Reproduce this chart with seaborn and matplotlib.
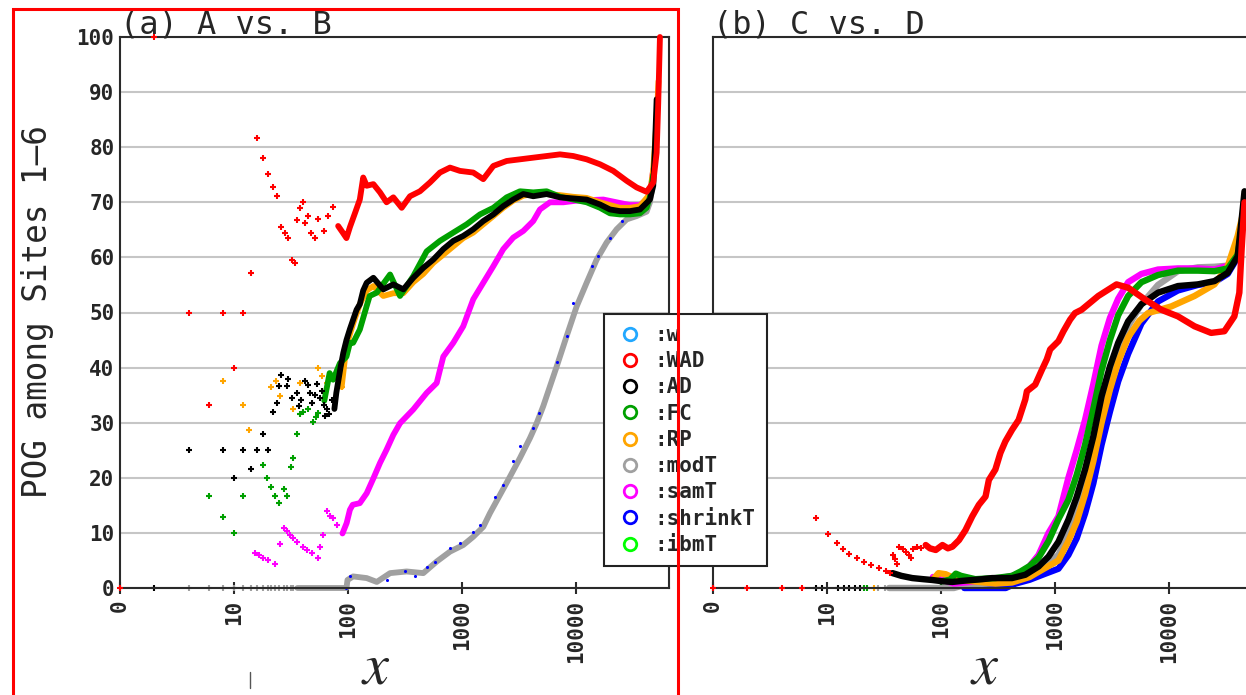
import matplotlib
matplotlib.use("Agg")
import matplotlib.pyplot as plt
import matplotlib.transforms as mtransforms
from matplotlib.lines import Line2D
from matplotlib.patches import Rectangle
from matplotlib.ticker import NullLocator
from matplotlib.font_manager import FontProperties
import seaborn as sns

# ---------------------------------------------------------------- data
SERIES = ["w", "WAD", "AD", "FC", "RP", "modT", "samT", "shrinkT", "ibmT"]
COLORS = ["#22a8ff", "#ff0000", "#000000", "#00a000", "#ffa500",
          "#a0a0a0", "#ff00ff", "#0000ff", "#00ff00"]
X_TICKS = [1, 10, 100, 1000, 10000]
X_TICK_LABELS = ["0", "10", "100", "1000", "10000"]
Y_TICKS = [0, 10, 20, 30, 40, 50, 60, 70, 80, 90, 100]
TITLE_A = "(a) A vs. B"
TITLE_B = "(b) C vs. D"
Y_LABEL = "POG among Sites 1\u20136"

# ---- panel (a): A vs. B
A_WAD_DOT_X = [1, 2, 4, 6, 8, 10, 12, 14, 16, 18, 20, 22, 24, 26, 28, 30, 32, 34, 36, 38,
               40, 42, 45, 47, 51, 55, 61, 67, 74]
A_WAD_DOT_Y = [0, 100, 50, 33.3, 50, 40, 50, 57.1, 81.6, 78, 75.2, 72.8, 71.1, 65.6, 64.5,
               63.6, 59.5, 59, 66.8, 68.9, 70, 66.3, 67.5, 64.5, 63.6, 66.9, 64.8, 67.5, 69.2]
A_WAD_LINE_X = [82, 90, 97, 104, 115, 127, 136, 146, 167, 191, 218, 250, 296, 350, 428, 524,
                641, 785, 960, 1256, 1538, 1884, 2466, 3228, 4220, 5534, 7244, 9465, 12410,
                16250, 21250, 27860, 34070, 41690, 47660, 51030, 52700, 54550]
A_WAD_LINE_Y = [65.7, 64.5, 63.5, 65.5, 68.0, 70.5, 74.5, 73.0, 73.3, 71.8, 70.0, 70.9, 69.0,
                71.1, 72.0, 73.6, 75.4, 76.3, 75.7, 75.4, 74.2, 76.6, 77.5, 77.8, 78.1, 78.4,
                78.7, 78.4, 77.8, 76.9, 75.7, 73.9, 72.7, 71.9, 73.6, 79.0, 88.0, 100.0]

A_AD_DOT_X = [2, 4, 8, 10, 12, 14, 16, 18, 20, 22, 24, 25, 26, 29, 30, 32, 35.5, 37, 39, 42,
              45, 46, 48, 51, 54, 57, 59, 61, 63, 65, 68, 72]
A_AD_DOT_Y = [0, 25, 25, 20, 25, 21.6, 25, 28, 25, 31.9, 33.6, 36.7, 38.7, 36.6, 38.0, 34.5,
              35.4, 33.0, 34.2, 37.5, 36.9, 35.4, 33.5, 35.1, 37.0, 34.5, 35.8, 33.3, 31.2,
              32.4, 31.5, 34.2]
A_AD_LINE_X = [76, 79, 86, 91, 97, 104, 111, 119, 127, 136, 146, 167, 204, 250, 306, 374, 458,
               560, 686, 839, 1026, 1256, 1538, 1884, 2303, 2818, 3451, 4220, 5534, 7244, 9465,
               12410, 16250, 19870, 24320, 29770, 36420, 44570, 47660, 49300, 51030]
A_AD_LINE_Y = [32.5, 35.4, 40.0, 42.7, 45.0, 47.0, 48.7, 50.5, 51.5, 54.0, 55.4, 56.3, 54.2,
               55.1, 54.2, 56.3, 58.1, 59.6, 61.5, 63.0, 63.9, 65.1, 66.6, 67.8, 69.3, 70.5,
               71.5, 71.1, 71.5, 70.9, 70.7, 70.5, 69.6, 68.7, 68.4, 68.4, 68.7, 70.5, 73.0,
               80.0, 88.7]

A_FC_DOT_X = [6, 8, 10, 12, 18, 19.5, 21, 23, 25, 27.5, 29, 31.5, 33, 36, 38, 40.5, 45, 49.5,
              52, 55]
A_FC_DOT_Y = [16.7, 12.8, 10, 16.7, 22.4, 19.9, 18.3, 16.7, 15.5, 17.9, 16.7, 21.9, 23.6, 28,
              31.6, 32, 32.4, 30.2, 31.1, 31.8]
A_FC_LINE_X = [62, 69, 74, 85, 97, 104, 111, 127, 146, 155, 179, 234, 286, 374, 490, 641, 839,
               1099, 1438, 1884, 2466, 3228, 4220, 5534, 7244, 9465, 12410, 16250, 19870,
               24320, 29770, 36420, 41690, 44570, 47660]
A_FC_LINE_Y = [34.0, 39.0, 37.8, 40.8, 42.0, 44.5, 44.5, 46.9, 51.2, 53.0, 53.6, 56.9, 53.0,
               56.6, 61.1, 63.0, 64.5, 66.0, 67.8, 69.0, 70.9, 72.0, 71.8, 72.0, 71.0, 70.5,
               70.0, 69.0, 68.0, 67.8, 67.8, 68.0, 69.0, 71.0, 75.0]

A_RP_DOT_X = [8, 12, 13.6, 21.3, 23.2, 25.3, 33, 38, 55, 59, 65, 88]
A_RP_DOT_Y = [37.5, 33.3, 28.6, 36.4, 37.5, 34.9, 32.4, 37.2, 40, 38.4, 37.2, 36.5]
A_RP_LINE_X = [88, 97, 111, 127, 146, 167, 204, 250, 306, 374, 458, 560, 686, 839, 1026, 1256,
               1538, 1884, 2303, 2818, 3451, 4220, 5534, 7244, 9465, 12410, 16250, 19870,
               24320, 29770, 36420, 44570, 47660, 51030, 53000]
A_RP_LINE_Y = [36.5, 44.0, 48.0, 51.5, 54.0, 54.8, 53.0, 53.5, 53.5, 55.5, 57.0, 59.0, 60.5,
               62.0, 63.5, 64.5, 66.0, 67.5, 69.0, 70.3, 71.2, 71.5, 71.5, 71.3, 71.0, 70.8,
               70.0, 69.5, 69.0, 69.0, 69.3, 71.5, 76.0, 85.0, 92.0]

A_MODT_DOT_X = [4, 6, 8, 10, 12, 14, 16, 18, 20, 21, 23, 25, 27.5, 29, 31.5, 33]
A_MODT_DOT_Y = [0, 0, 0, 0, 0, 0, 0, 0, 0, 0, 0, 0, 0, 0, 0, 0]
A_MODT_LINE_X = [36, 97, 99, 111, 146, 179, 234, 327, 458, 600, 785, 1026, 1256, 1538, 1762,
                 2155, 2636, 3228, 3948, 4520, 5165, 5915, 6776, 8283, 10140, 12410, 15200,
                 18580, 22740, 27860, 34070, 41690, 44570, 47660]
A_MODT_LINE_Y = [0, 0, 1.45, 2.1, 1.8, 1.1, 2.7, 3.0, 2.7, 4.8, 6.6, 7.8, 9.3, 11.1, 13.6,
                 16.9, 20.2, 23.6, 27.2, 29.9, 33.0, 36.6, 40.2, 45.7, 51.1, 55.4, 59.6, 62.7,
                 65.1, 66.9, 67.5, 68.3, 70.0, 74.0]

A_SHRINKT_X = [97, 104, 218, 316, 385, 490, 580, 785, 960, 1256, 1438, 1943, 2303, 2818,
               3228, 4220, 4700, 6776, 8283, 9465, 13700, 15600, 19870, 25100]
A_SHRINKT_Y = [0, 2.1, 1.5, 3.0, 2.1, 3.9, 4.8, 7.2, 8.1, 10.2, 11.5, 16.6, 18.7, 23.0, 25.7,
               29.0, 31.8, 41.1, 45.7, 51.8, 58.4, 60.2, 63.6, 66.6]

A_SAMT_DOT_X = [15.3, 16.5, 18.1, 20, 22.9, 25.3, 27.5, 29, 31, 33.1, 36, 40.4, 44, 48, 55,
                57, 59.9, 65, 70, 74.3, 80]
A_SAMT_DOT_Y = [6.4, 5.9, 5.4, 5.0, 4.4, 8.0, 10.8, 10.3, 9.6, 9.0, 8.4, 7.5, 6.9, 6.4, 5.4,
                7.5, 9.6, 13.9, 13.1, 12.7, 11.5]
A_SAMT_LINE_X = [89.5, 97.4, 104, 110, 127, 146, 167, 191, 218, 250, 286, 374, 490, 600, 686,
                 839, 1026, 1256, 1538, 1884, 2303, 2818, 3451, 4220, 4830, 5915, 7745, 10140,
                 17370, 22740, 29770, 36420, 44570, 47660]
A_SAMT_LINE_Y = [9.9, 11.8, 14.2, 15.1, 15.4, 17.2, 19.9, 22.7, 25.1, 27.8, 29.9, 32.4, 35.4,
                 37.2, 42.0, 44.5, 47.5, 52.4, 55.4, 58.4, 61.5, 63.6, 64.8, 66.6, 68.7, 70.0,
                 70.0, 70.3, 70.5, 70.0, 69.5, 69.5, 71.0, 76.0]

# ---- panel (b): C vs. D
C_WAD_DOT_X = [1, 2, 4, 6, 8, 10.2, 12.2, 13.7, 15.7, 18.2, 21.3, 24.3, 28.7, 32.9, 35.5, 38,
               39.5, 41, 43, 46, 49, 52, 54.5, 57, 62, 67]
C_WAD_DOT_Y = [0, 0, 0, 0, 12.7, 9.8, 8.2, 7.0, 6.2, 5.4, 4.8, 4.2, 3.6, 3.0, 2.7, 6.0, 5.2,
               4.4, 7.5, 7.0, 6.5, 6.0, 5.4, 7.0, 7.5, 7.2]
C_WAD_LINE_X = [73.5, 80, 90, 103, 115, 126, 144, 164, 188, 215, 246, 263, 300, 332, 367, 420,
                480, 549, 567, 671, 768, 848, 907, 1073, 1187, 1357, 1500, 1714, 2399, 3466,
                4385, 6132, 8570, 11990, 16760, 23420, 30640, 37480, 41440, 43400, 46000]
C_WAD_LINE_Y = [7.8, 7.2, 6.9, 7.8, 7.2, 7.5, 8.7, 10.5, 13.0, 15.1, 16.6, 19.6, 21.5, 24.5,
                26.6, 28.7, 30.5, 34.2, 35.7, 36.9, 39.6, 41.5, 43.3, 44.8, 46.6, 48.7, 49.9,
                50.5, 53.0, 55.1, 54.5, 52.4, 50.5, 49.3, 47.5, 46.3, 46.6, 49.3, 53.6, 61.5,
                70.0]

C_AD_DOT_X = [8, 9, 12.6, 14.1, 15.6, 17.5, 19.4]
C_AD_DOT_Y = [0, 0, 0, 0, 0, 0, 0]
C_AD_LINE_X = [37.6, 45, 56, 70, 84, 105, 126, 155, 188, 230, 281, 340, 420, 549, 718, 878,
               1073, 1312, 1550, 1836, 2170, 2564, 3035, 3586, 4385, 5734, 8015, 11990, 17920,
               25060, 32760, 40070, 43420, 46000]
C_AD_LINE_Y = [2.7, 2.2, 1.8, 1.6, 1.45, 1.2, 1.1, 1.3, 1.45, 1.6, 1.8, 1.8, 1.8, 2.4, 3.9,
               5.7, 8.4, 12.4, 16.5, 21.5, 27.5, 34.8, 40.2, 44.5, 48.4, 51.5, 53.6, 54.8,
               55.1, 55.7, 57.2, 60.2, 66.9, 72.0]

C_FC_DOT_X = [21, 22.4]
C_FC_DOT_Y = [0, 0]
C_FC_LINE_X = [100, 120, 135, 150, 200, 300, 420, 500, 600, 718, 878, 1073, 1312, 1550, 1836,
               2170, 2564, 3035, 3586, 4385, 5734, 8015, 11990, 17920, 25060, 32760, 40070,
               43420, 46000]
C_FC_LINE_Y = [1.2, 1.5, 2.6, 2.2, 1.6, 1.8, 2.2, 3.0, 4.0, 5.5, 8.5, 12.5, 16.0, 20.5, 26.0,
               32.5, 39.5, 45.0, 49.5, 53.0, 55.5, 56.8, 57.6, 57.6, 57.5, 58.0, 60.5, 65.0,
               70.0]

C_SAMT_LINE_X = [85, 130, 200, 300, 420, 549, 718, 878, 1073, 1312, 1550, 1836, 2170, 2564,
                 3035, 3586, 4385, 5734, 8015, 11990, 17920, 25060, 32760, 40070, 43420]
C_SAMT_LINE_Y = [2.0, 0.8, 1.2, 1.6, 2.2, 3.0, 6.0, 10.0, 13.0, 20.0, 25.0, 30.5, 37.0, 44.0,
                 49.0, 52.5, 55.5, 57.0, 57.8, 58.0, 58.0, 57.8, 58.5, 60.5, 65.0]

C_MODT_DOT_X = [28, 32]
C_MODT_DOT_Y = [0, 0]
C_MODT_LINE_X = [35, 130, 165, 250, 420, 600, 800, 1073, 1312, 1550, 1836, 2170, 2564, 3035,
                 3586, 4385, 5734, 8015, 11990, 17920, 25060, 32760, 40070, 43420]
C_MODT_LINE_Y = [0, 0, 0.6, 0.8, 1.2, 2.5, 4.0, 6.0, 10.0, 14.0, 19.0, 25.0, 32.0, 38.0, 43.0,
                 47.5, 51.5, 55.0, 57.5, 58.2, 58.3, 58.5, 60.5, 66.0]

C_RP_DOT_X = [26]
C_RP_DOT_Y = [0]
C_RP_LINE_X = [85, 95, 110, 140, 300, 420, 600, 800, 1073, 1312, 1550, 1836, 2170, 2564, 3035,
               3586, 4385, 5500, 6560, 10470, 16760, 25060, 32760, 40070, 44800]
C_RP_LINE_Y = [1.5, 2.7, 2.5, 1.5, 0.8, 1.0, 2.0, 3.5, 5.0, 8.5, 12.0, 17.0, 23.0, 30.0, 36.0,
               41.0, 45.5, 48.5, 49.9, 51.1, 53.0, 55.1, 58.4, 63.9, 68.1]

C_SHRINKT_LINE_X = [160, 370, 450, 600, 800, 1073, 1312, 1550, 1836, 2170, 2564, 3035, 3586,
                    4385, 5734, 8015, 11990, 17920, 25060, 32760, 40070, 43420]
C_SHRINKT_LINE_Y = [0, 0, 0.8, 1.5, 2.5, 3.5, 6.0, 9.0, 13.5, 19.0, 26.0, 32.0, 37.5, 42.5,
                    48.0, 52.0, 54.0, 55.0, 55.5, 57.0, 60.0, 66.0]

# ---------------------------------------------------------------- style
W, H, DPI = 1246, 695, 100
MONO = "DejaVu Sans Mono"
col = dict(zip(SERIES, COLORS))
Z = {"shrinkT": 2.0, "modT": 2.1, "samT": 2.2, "RP": 2.3, "FC": 2.4, "AD": 2.5, "WAD": 2.6}

sns.set_style("white")
plt.rcParams["font.family"] = [MONO, "DejaVu Sans"]
plt.rcParams["mathtext.fontset"] = "stix"

fig = plt.figure(figsize=(W / DPI, H / DPI), dpi=DPI)
fig.patch.set_facecolor("white")

ax_l, ax_b, ax_w, ax_h = 120 / W, (H - 588) / H, 549 / W, 551 / H
ax1 = fig.add_axes([ax_l, ax_b, ax_w, ax_h])
ax2 = fig.add_axes([713 / W, ax_b, ax_w, ax_h])


def dots(ax, xs, ys, name, s=18, lw=1.5):
    sns.scatterplot(x=xs, y=ys, ax=ax, color=col[name], marker="+", s=s,
                    linewidth=lw, zorder=Z[name], clip_on=False, legend=False)


def band(ax, xs, ys, name, lw=4.2):
    sns.lineplot(x=xs, y=ys, ax=ax, color=col[name], linewidth=lw, sort=False,
                 estimator=None, errorbar=None, zorder=Z[name], clip_on=False,
                 legend=False)


# panel (a)
band(ax1, A_MODT_LINE_X, A_MODT_LINE_Y, "modT")
dots(ax1, A_MODT_DOT_X, A_MODT_DOT_Y, "modT")
sns.scatterplot(x=A_SHRINKT_X, y=A_SHRINKT_Y, ax=ax1, color=col["shrinkT"], marker="o",
                s=5, linewidth=0, zorder=2.15, clip_on=False, legend=False)
band(ax1, A_SAMT_LINE_X, A_SAMT_LINE_Y, "samT")
dots(ax1, A_SAMT_DOT_X, A_SAMT_DOT_Y, "samT")
band(ax1, A_RP_LINE_X, A_RP_LINE_Y, "RP")
dots(ax1, A_RP_DOT_X, A_RP_DOT_Y, "RP")
band(ax1, A_FC_LINE_X, A_FC_LINE_Y, "FC")
dots(ax1, A_FC_DOT_X, A_FC_DOT_Y, "FC")
band(ax1, A_AD_LINE_X, A_AD_LINE_Y, "AD")
dots(ax1, A_AD_DOT_X, A_AD_DOT_Y, "AD")
band(ax1, A_WAD_LINE_X, A_WAD_LINE_Y, "WAD")
dots(ax1, A_WAD_DOT_X, A_WAD_DOT_Y, "WAD")

# panel (b)
band(ax2, C_SHRINKT_LINE_X, C_SHRINKT_LINE_Y, "shrinkT", lw=4.6)
band(ax2, C_RP_LINE_X, C_RP_LINE_Y, "RP", lw=4.6)
dots(ax2, C_RP_DOT_X, C_RP_DOT_Y, "RP")
band(ax2, C_MODT_LINE_X, C_MODT_LINE_Y, "modT", lw=4.6)
dots(ax2, C_MODT_DOT_X, C_MODT_DOT_Y, "modT")
band(ax2, C_SAMT_LINE_X, C_SAMT_LINE_Y, "samT", lw=4.6)
band(ax2, C_FC_LINE_X, C_FC_LINE_Y, "FC", lw=4.6)
dots(ax2, C_FC_DOT_X, C_FC_DOT_Y, "FC")
band(ax2, C_AD_LINE_X, C_AD_LINE_Y, "AD", lw=4.6)
dots(ax2, C_AD_DOT_X, C_AD_DOT_Y, "AD")
band(ax2, C_WAD_LINE_X, C_WAD_LINE_Y, "WAD", lw=4.6)
dots(ax2, C_WAD_DOT_X, C_WAD_DOT_Y, "WAD")

tick_font = FontProperties(family=MONO, weight="bold", size=15)
for ax, title in ((ax1, TITLE_A), (ax2, TITLE_B)):
    ax.set_xscale("log")
    ax.set_xlim(1, 65500)
    ax.set_ylim(0, 100)
    ax.set_xticks(X_TICKS)
    ax.set_xticklabels(X_TICK_LABELS)
    ax.xaxis.set_minor_locator(NullLocator())
    ax.set_yticks(Y_TICKS)
    ax.set_xlabel("")
    ax.set_ylabel("")
    ax.grid(axis="y", color="#c6c6c6", linewidth=1.5)
    ax.grid(axis="x", visible=False)
    ax.set_axisbelow(True)
    for sp in ax.spines.values():
        sp.set_visible(True)
        sp.set_color("#2a2a2a")
        sp.set_linewidth(1.5)
    ax.tick_params(axis="x", which="major", direction="inout", length=9, width=1.5,
                   color="#2a2a2a", pad=4, labelrotation=90, bottom=True)
    ax.tick_params(axis="y", which="major", length=0, pad=4)
    for lbl in ax.get_xticklabels() + ax.get_yticklabels():
        lbl.set_fontproperties(tick_font)
    trans = mtransforms.offset_copy(ax.transAxes, fig=fig, x=0, y=4, units="dots")
    ax.text(0, 1, title, transform=trans, ha="left", va="baseline",
            family=MONO, size=23)

ax2.tick_params(axis="y", labelleft=False)

fig.text(38 / W, 1 - 312 / H, Y_LABEL, rotation=90, ha="center", va="center",
         family=MONO, size=23.5)
fig.text(376 / W, 1 - 684 / H, "$x$", ha="center", va="baseline", size=42)
fig.text(985 / W, 1 - 684 / H, "$x$", ha="center", va="baseline", size=42)
fig.add_artist(Line2D([250 / W, 250 / W], [1 - 672 / H, 1 - 688 / H],
                      color="#555555", linewidth=1.0))

handles = [Line2D([], [], linestyle="none", marker="o", markersize=9,
                  markerfacecolor="none", markeredgecolor=c, markeredgewidth=2.0)
           for c in COLORS]
labels = [":" + s for s in SERIES]
leg = fig.legend(handles, labels, loc="upper left",
                 bbox_to_anchor=(603.5 / W, 1 - 313.5 / H), bbox_transform=fig.transFigure,
                 frameon=True, fancybox=False, framealpha=1, edgecolor="#222222",
                 prop=FontProperties(family=MONO, weight="bold", size=15),
                 borderaxespad=0, borderpad=0.55, labelspacing=0.3,
                 handlelength=1.4, handletextpad=0.5)
leg.get_frame().set_linewidth(1.5)

fig.add_artist(Rectangle((12.5 / W, -0.05), (677.5 - 12.5) / W, 1 - 8.5 / H + 0.05,
                         transform=fig.transFigure, fill=False, edgecolor="#ff0000",
                         linewidth=2.2, zorder=20))

fig.savefig("out.png", dpi=DPI, facecolor="white")
